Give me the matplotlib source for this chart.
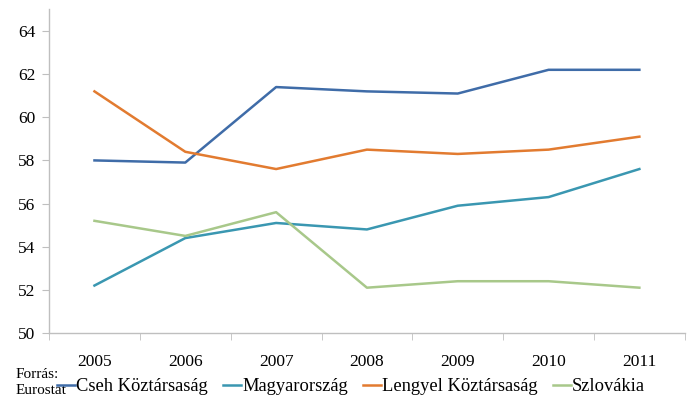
import matplotlib
matplotlib.use("Agg")
import matplotlib.pyplot as plt
import numpy as np

years = ["2005", "2006", "2007", "2008", "2009", "2010", "2011"]
cseh = [58.0, 57.9, 61.4, 61.2, 61.1, 62.2, 62.2]
magyar = [52.2, 54.4, 55.1, 54.8, 55.9, 56.3, 57.6]
lengyel = [61.2, 58.4, 57.6, 58.5, 58.3, 58.5, 59.1]
szlovakia = [55.2, 54.5, 55.6, 52.1, 52.4, 52.4, 52.1]

series = [
    ("Cseh Köztársaság", cseh, "#3F6CA8"),
    ("Magyarország", magyar, "#3A97B1"),
    ("Lengyel Köztársaság", lengyel, "#E27B30"),
    ("Szlovákia", szlovakia, "#A8C88A"),
]

plt.rcParams["font.family"] = ["Liberation Serif", "DejaVu Serif"]

fig = plt.figure(figsize=(6.91, 4.0), dpi=100)
ax = fig.add_axes([0.071, 0.1675, 0.92, 0.809])

x = np.arange(len(years))
for name, vals, col in series:
    ax.plot(x, vals, color=col, linewidth=1.8, label=name)

ax.set_xlim(-0.5, len(years) - 0.5)
ax.set_ylim(50, 65)
ax.set_yticks(np.arange(50, 65, 2))
ax.set_xticks(x)
ax.set_xticklabels(years)
ax.set_xticks(np.arange(-0.5, len(years)), minor=True)

for s in ["top", "right"]:
    ax.spines[s].set_visible(False)
for s in ["left", "bottom"]:
    ax.spines[s].set_color("#BFBFBF")
    ax.spines[s].set_linewidth(1.0)

ax.tick_params(axis="y", length=5, color="#BFBFBF", labelsize=12.5, pad=5)
ax.tick_params(axis="x", which="major", length=0, labelsize=12.5, pad=15)
ax.tick_params(axis="x", which="minor", length=5, color="#BFBFBF")

fig.text(0.022, 0.065, "Forrás:", fontsize=11, va="center", ha="left")
fig.text(0.022, 0.0225, "Eurostat", fontsize=11, va="center", ha="left")

fig.legend(loc="center left", bbox_to_anchor=(0.0825, 0.033), ncol=4,
           frameon=False, fontsize=13.3, handlelength=0.97, handletextpad=0.08,
           columnspacing=0.8, borderaxespad=0, borderpad=0)

fig.savefig("out.png", dpi=100)
